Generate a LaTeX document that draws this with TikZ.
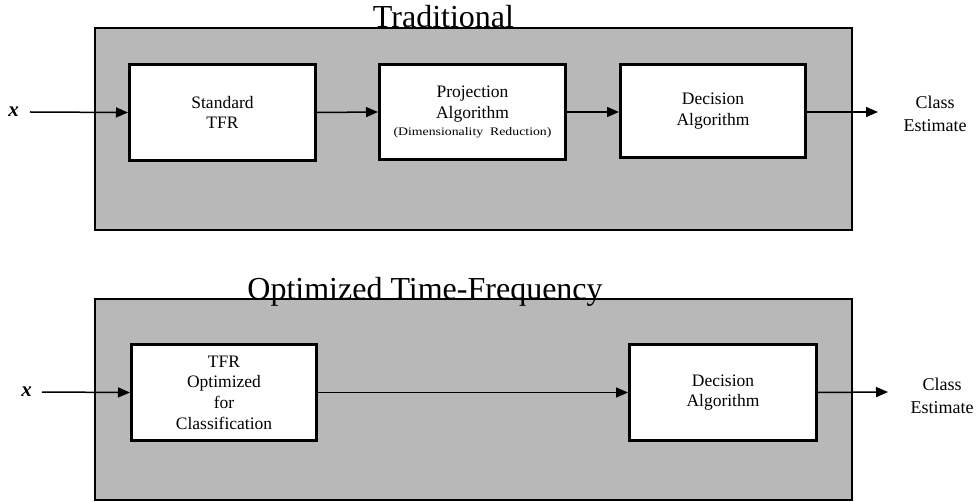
\documentclass[tikz,border=0pt]{standalone}
\usepackage{fontspec}
\setmainfont{Liberation Serif}
\usetikzlibrary{arrows.meta}
\definecolor{panelgray}{rgb}{0.72,0.72,0.72}
\begin{document}
\begin{tikzpicture}[x=1pt,y=-1pt,
  panel/.style={draw=black, line width=1.5pt, fill=panelgray, inner sep=0pt},
  blockbox/.style={draw=black, line width=3pt, fill=white, inner sep=0pt, align=center,
    font=\fontsize{17.5}{20.7}\selectfont},
  flow/.style={line width=1.5pt, -{Triangle[length=12pt,width=10pt]}},
  ttl/.style={font=\fontsize{32}{36}\selectfont, anchor=base, inner sep=0pt},
  lbl/.style={font=\fontsize{18}{23}\selectfont, align=center, inner sep=0pt},
  xin/.style={font=\fontsize{21}{24}\selectfont\bfseries\itshape, anchor=east, inner ysep=2pt}
]
\useasboundingbox (0,0) rectangle (976,502);

% ---------- Traditional ----------
\node[panel, minimum width=757pt, minimum height=202pt] (ptop) at (473.5,129) {};
\node[ttl] (ttop) at (443.5,28) {Traditional};

\node[blockbox, minimum width=186pt, minimum height=96pt] (tfr) at (222.5,112.5) {Standard\\TFR};
\node[blockbox, minimum width=186pt, minimum height=95pt] (proj) at (472.5,112)
  {Projection\\Algorithm\\[-3pt]{\fontsize{11.5}{13}\selectfont\scalebox{1.2}[1]{(Dimensionality\ \ Reduction)}}};
\node[blockbox, minimum width=185pt, minimum height=93pt] (dec1) at (713,111) {Decision\\Algorithm};

\node[xin, inner xsep=11pt] (x1) at (30,112) {x};
\coordinate (out1) at (878,112);
\node[lbl] (ce1) at (935,113.5) {Class\\Estimate};

\draw[flow] (x1.east) -- (tfr.west);
\draw[flow] (tfr.east) -- (proj.west);
\draw[flow] (proj.east) -- (proj.east -| dec1.west);
\draw[flow] (dec1.east |- out1) -- (out1);

% ---------- Optimized Time-Frequency ----------
\node[panel, minimum width=757pt, minimum height=201pt] (pbot) at (473.5,399.5) {};
\node[ttl] (tbot) at (425,299) {Optimized Time-Frequency};

\node[blockbox, minimum width=185pt, minimum height=96pt] (otfr) at (224,392.5)
  {TFR\\Optimized\\for\\Classification};
\node[blockbox, minimum width=187pt, minimum height=96pt] (dec2) at (723,392.5) {Decision\\Algorithm};

\node[xin, inner xsep=10pt] (x2) at (42,392) {x};
\coordinate (out2) at (888,392);
\node[lbl] (ce2) at (942,396) {Class\\Estimate};

\draw[flow] (x2.east) -- (otfr.west);
\draw[flow] (otfr.east) -- (dec2.west);
\draw[flow] (dec2.east) -- (out2);
\end{tikzpicture}
\end{document}
